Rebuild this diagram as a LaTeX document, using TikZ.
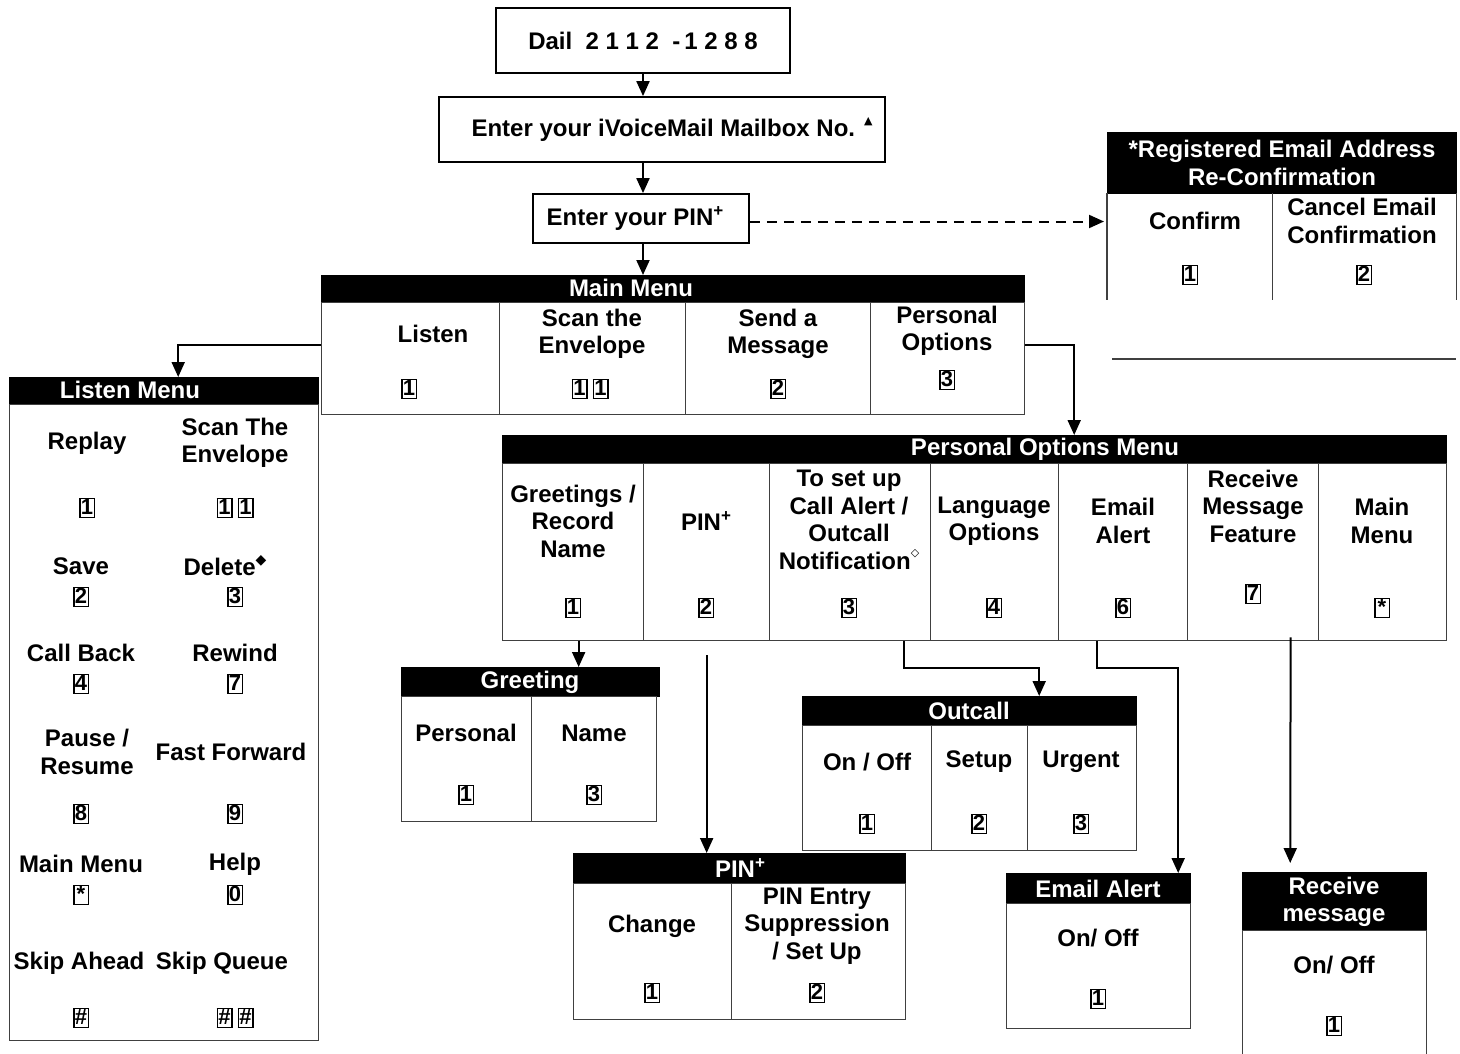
\documentclass[tikz,border=0pt]{standalone}
\usepackage{fontspec}
\setmainfont{Liberation Sans}
\newfontfamily\symf{DejaVu Sans}
\usetikzlibrary{arrows.meta}
\newcommand{\kk}[1]{{\setlength{\fboxsep}{0pt}\setlength{\fboxrule}{1.5pt}\fbox{\makebox[13pt]{\rule[-2pt]{0pt}{17.5pt}\fontsize{22}{22}\selectfont\bfseries #1}}}}
\newcommand{\kkk}[1]{\kk{#1}\hspace{5pt}\kk{#1}}
\newcommand{\plusup}{\raisebox{9pt}{\fontsize{17}{17}\selectfont +}}
\begin{document}
\begin{tikzpicture}[
  x=1pt, y=-1pt,
  every node/.style={font=\fontsize{24}{27.5}\selectfont\bfseries},
  topbox/.style={draw, line width=1.8pt, inner sep=0},
  hdr/.style={fill=black, draw=black, text=white, inner sep=0, anchor=north west},
  cell/.style={draw=black!75, line width=1.3pt, inner sep=0, anchor=north west},
  ghost/.style={inner sep=0, anchor=north west},
  txt/.style={align=center, inner sep=0},
  htxt/.style={align=center, inner sep=0, text=white},
  arr/.style={line width=2pt, -{Triangle[width=13pt,length=15pt]}},
]
\useasboundingbox (0,0) rectangle (1460,1053);

% ---- top boxes
\node[topbox, minimum width=294, minimum height=65] (dail) at (643,40.5) {Dail\ \ 2 1 1 2\ \ -\,1 2 8 8};
\node[topbox, minimum width=446, minimum height=65] (mbox) at (662,129.5) {\hspace*{20pt}Enter your iVoiceMail Mailbox No. \raisebox{12pt}{\symf\fontsize{11}{11}\selectfont ▲}};
\node[topbox, minimum width=216, minimum height=49] (pinb) at (641,218.5) {Enter your PIN\plusup\hspace*{12pt}};

% ---- registered email re-confirmation
\node[hdr, minimum width=349, minimum height=61] (regh) at (1107,132) {};
\node[htxt] (reght) at (1282,163) {*Registered Email Address\\Re-Confirmation};
\node[ghost, minimum width=165, minimum height=107] (conf) at (1107,193) {};
\node[ghost, minimum width=184, minimum height=107] (canc) at (1272,193) {};
\draw[draw=black!75, line width=1.3pt] (conf.north west) -- (conf.south west)
  (conf.north east) -- (conf.south east) (canc.north east) -- (canc.south east);
\draw[draw=black!75, line width=1.3pt] (1112,359) -- (1456,359);
\node[txt] (conft) at (1195,221) {Confirm};
\node[txt] (confk) at (1190,275) {\kk{1}};
\node[txt] (canct) at (1362,221) {Cancel Email\\Confirmation};
\node[txt] (canck) at (1364,275) {\kk{2}};

% ---- main menu
\node[hdr, minimum width=703, minimum height=27] (mmh) at (321,275) {};
\node[htxt] (mmht) at (631,288) {Main Menu};
\node[cell, minimum width=178, minimum height=112] (mm1) at (321,302) {};
\node[cell, minimum width=186, minimum height=112] (mm2) at (499,302) {};
\node[cell, minimum width=185, minimum height=112] (mm3) at (685,302) {};
\node[cell, minimum width=154, minimum height=112] (mm4) at (870,302) {};
\node[txt] (mm1t) at (433,334) {Listen};
\node[txt] (mm1k) at (409,389) {\kk{1}};
\node[txt] (mm2t) at (592,334) {Scan the\\Envelope};
\node[txt] (mm2k) at (590,389) {\kkk{1}};
\node[txt] (mm3t) at (778,334) {Send a\\Message};
\node[txt] (mm3k) at (778,389) {\kk{2}};
\node[txt] (mm4t) at (947,331) {Personal\\Options};
\node[txt] (mm4k) at (947,380) {\kk{3}};

% ---- listen menu
\node[hdr, minimum width=309, minimum height=27] (lmh) at (9,377) {};
\node[htxt] (lmht) at (130,390) {Listen Menu};
\node[cell, minimum width=309, minimum height=636] (lmb) at (9,404) {};
\node[txt] (l1) at (87,443) {Replay};
\node[txt] (l2) at (235,443) {Scan The\\Envelope};
\node[txt] (l1k) at (87,508) {\kk{1}};
\node[txt] (l2k) at (235,508) {\kkk{1}};
\node[txt] (l3) at (81,566) {Save};
\node[txt] (l4) at (225,566) {Delete\raisebox{11pt}{\symf\fontsize{14}{14}\selectfont ◆}};
\node[txt] (l3k) at (81,597) {\kk{2}};
\node[txt] (l4k) at (235,597) {\kk{3}};
\node[txt] (l5) at (81,653) {Call Back};
\node[txt] (l6) at (235,653) {Rewind};
\node[txt] (l5k) at (81,684) {\kk{4}};
\node[txt] (l6k) at (235,684) {\kk{7}};
\node[txt] (l7) at (87,752) {Pause /\\Resume};
\node[txt] (l8) at (231,752) {Fast Forward};
\node[txt] (l7k) at (81,814) {\kk{8}};
\node[txt] (l8k) at (235,814) {\kk{9}};
\node[txt] (l9) at (81,864) {Main Menu};
\node[txt] (l10) at (235,864) {Help};
\node[txt] (l9k) at (81,895) {\kk{*}};
\node[txt] (l10k) at (235,895) {\kk{0}};
\node[txt] (l11) at (79,963) {Skip Ahead};
\node[txt] (l12) at (222,963) {Skip Queue};
\node[txt] (l11k) at (81,1018) {\kk{\#}};
\node[txt] (l12k) at (235,1018) {\kkk{\#}};

% ---- personal options menu
\node[hdr, minimum width=944, minimum height=28] (poh) at (502,435) {};
\node[htxt] (poht) at (1045,449) {Personal Options Menu};
\node[cell, minimum width=141, minimum height=177] (po1) at (502,463) {};
\node[cell, minimum width=126, minimum height=177] (po2) at (643,463) {};
\node[cell, minimum width=161, minimum height=177] (po3) at (769,463) {};
\node[cell, minimum width=128, minimum height=177] (po4) at (930,463) {};
\node[cell, minimum width=129, minimum height=177] (po5) at (1058,463) {};
\node[cell, minimum width=131, minimum height=177] (po6) at (1187,463) {};
\node[cell, minimum width=128, minimum height=177] (po7) at (1318,463) {};
\node[txt] (po1t) at (573,521) {Greetings /\\Record\\Name};
\node[txt] (po1k) at (573,608) {\kk{1}};
\node[txt] (po2t) at (706,521) {PIN\plusup};
\node[txt] (po2k) at (706,608) {\kk{2}};
\node[txt] (po3t) at (849,520) {To set up\\Call Alert /\\Outcall\\Notification\raisebox{13pt}{\symf\fontsize{11}{11}\selectfont ◇}};
\node[txt] (po3k) at (849,608) {\kk{3}};
\node[txt] (po4t) at (994,521) {Language\\Options};
\node[txt] (po4k) at (994,608) {\kk{4}};
\node[txt] (po5t) at (1123,521) {Email\\Alert};
\node[txt] (po5k) at (1123,608) {\kk{6}};
\node[txt] (po6t) at (1253,506) {Receive\\Message\\Feature};
\node[txt] (po6k) at (1253,594) {\kk{7}};
\node[txt] (po7t) at (1382,521) {Main\\Menu};
\node[txt] (po7k) at (1382,608) {\kk{*}};

% ---- greeting
\node[hdr, minimum width=258, minimum height=29] (gh) at (401,667) {};
\node[htxt] (ght) at (530,682) {Greeting};
\node[cell, minimum width=130, minimum height=125] (g1) at (401,696) {};
\node[cell, minimum width=125, minimum height=125] (g2) at (531,696) {};
\node[txt] (g1t) at (466,733) {Personal};
\node[txt] (g1k) at (466,795) {\kk{1}};
\node[txt] (g2t) at (594,733) {Name};
\node[txt] (g2k) at (594,795) {\kk{3}};

% ---- outcall
\node[hdr, minimum width=334, minimum height=29] (oh) at (802,696) {};
\node[htxt] (oht) at (969,711) {Outcall};
\node[cell, minimum width=129, minimum height=125] (o1) at (802,725) {};
\node[cell, minimum width=96, minimum height=125] (o2) at (931,725) {};
\node[cell, minimum width=109, minimum height=125] (o3) at (1027,725) {};
\node[txt] (o1t) at (867,762) {On / Off};
\node[txt] (o1k) at (867,824) {\kk{1}};
\node[txt] (o2t) at (979,762) {Setup};
\node[txt] (o2k) at (979,824) {\kk{2}};
\node[txt] (o3t) at (1081,762) {Urgent};
\node[txt] (o3k) at (1081,824) {\kk{3}};

% ---- PIN
\node[hdr, minimum width=332, minimum height=30] (ph) at (573,853) {};
\node[htxt] (pht) at (740,868) {PIN\plusup};
\node[cell, minimum width=158, minimum height=136] (p1) at (573,883) {};
\node[cell, minimum width=174, minimum height=136] (p2) at (731,883) {};
\node[txt] (p1t) at (652,926) {Change};
\node[txt] (p1k) at (652,993) {\kk{1}};
\node[txt] (p2t) at (817,926) {PIN Entry\\Suppression\\/ Set Up};
\node[txt] (p2k) at (817,993) {\kk{2}};

% ---- email alert
\node[hdr, minimum width=184, minimum height=30] (eh) at (1006,873) {};
\node[htxt] (eht) at (1098,889) {Email Alert};
\node[cell, minimum width=184, minimum height=125] (e1) at (1006,903) {};
\node[txt] (e1t) at (1098,938) {On/ Off};
\node[txt] (e1k) at (1098,999) {\kk{1}};

% ---- receive message
\node[hdr, minimum width=184, minimum height=58] (rh) at (1242,872) {};
\node[htxt] (rht) at (1334,902) {Receive\\message};
\node[cell, minimum width=184, minimum height=125] (r1) at (1242,930) {};
\node[txt] (r1t) at (1334,965) {On/ Off};
\node[txt] (r1k) at (1334,1026) {\kk{1}};

% ---- connectors
\draw[arr] (dail.south) -- (dail.south |- mbox.north);
\draw[arr] (dail.south |- mbox.south) -- (dail.south |- pinb.north);
\draw[arr] (dail.south |- pinb.south) -- (dail.south |- mmh.north);
\draw[arr, dash pattern=on 10pt off 7pt, shorten >=3pt] ([yshift=-3pt]pinb.east) -- ([yshift=-3pt]pinb.east -| conf.west);
\draw[arr] ([yshift=14pt]mm1.west) -| ([xshift=14.5pt]lmh.north);
\draw[arr] ([yshift=14pt]mm4.east) -| ([xshift=100pt]poh.north);
\draw[arr] ([xshift=5.5pt]po1.south) -- ([xshift=5.5pt]po1.south |- gh.north);
\draw[arr] ([yshift=-14pt]po2.south) -- (po2.south |- ph.north);
\draw[arr] ([xshift=53.5pt]po3.south) -- ([xshift=53.5pt,yshift=-27pt]po3.south) -| ([xshift=70pt]oh.north);
\draw[arr] ([xshift=-26.5pt]po5.south) -- ([xshift=-26.5pt,yshift=-27pt]po5.south) -| ([xshift=80pt]eh.north);
\draw[arr, shorten >=9pt] ([xshift=37.5pt,yshift=4pt]po6.south) -- ([xshift=-44pt]rh.north);
\end{tikzpicture}
\end{document}
